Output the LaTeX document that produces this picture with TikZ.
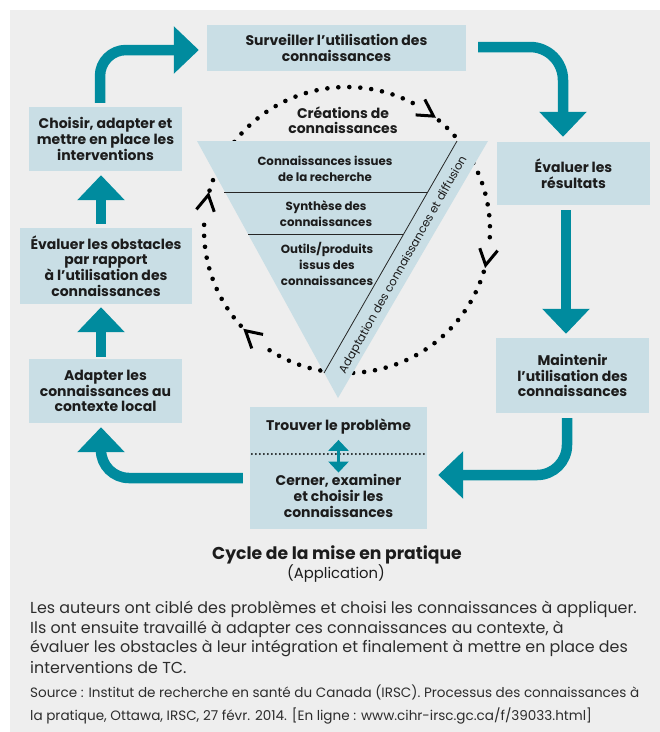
\documentclass[tikz,border=0pt]{standalone}
\usepackage{fontspec}
\setmainfont{Poppins}
\usetikzlibrary{arrows.meta,calc}

\definecolor{cyclegreen}{RGB}{0,139,158}
\definecolor{stepfill}{RGB}{201,222,229}
\definecolor{panelgray}{RGB}{238,238,238}
\definecolor{ink}{RGB}{28,28,28}
\definecolor{bodyink}{RGB}{45,45,45}

\newcommand\bxfont{\fontsize{14}{15.6}\selectfont\bfseries}
\newcommand\trifont{\fontsize{11.8}{15.7}\selectfont\bfseries}
\newcommand\bandfont{\fontsize{11.6}{13}\selectfont}

\begin{document}
\begin{tikzpicture}[x=1pt,y=-1pt,
  stepbox/.style={fill=stepfill, text=ink, font=\bxfont, align=center,
                  inner sep=0pt, minimum width=153pt},
  bigarrow/.style={draw=cyclegreen, line width=10.5pt,
                   -{Triangle[width=46pt,length=25pt]}},
  circdots/.style={draw=black, line width=4.6pt, line cap=round,
                   dash pattern=on 0pt off 11pt},
  chevron/.style={draw=black, line width=3pt, line join=miter},
  tritext/.style={text=ink, font=\trifont, align=center, inner sep=0pt},
  divider/.style={draw=black!85, line width=0.8pt}]

\useasboundingbox (0,0) rectangle (660,732);
\fill[white] (0,0) rectangle (660,732);
\fill[panelgray] (10,10) rectangle (660,732);

% --- the cycle of application steps ---
\node[stepbox, minimum width=259pt, minimum height=46pt] (surv) at (336.5,48)
  {Surveiller l’utilisation des\\connaissances};
\node[stepbox, minimum height=63pt] (evalres) at (573.5,173.5)
  {Évaluer les\\résultats};
\node[stepbox, minimum height=75pt] (maint) at (572.5,375.5)
  {Maintenir\\l’utilisation des\\connaissances};
\node[stepbox, minimum width=177pt, minimum height=122pt] (cible) at (338.5,468) {};
\node[stepbox, minimum height=64pt] (adapt) at (105.5,391)
  {Adapter les\\connaissances au\\contexte local};
\node[stepbox, minimum width=172pt, minimum height=76pt] (obst) at (106,266)
  {Évaluer les obstacles\\par rapport\\à l’utilisation des\\connaissances};
\node[stepbox, minimum height=64pt] (choix) at (105.5,139)
  {Choisir, adapter et\\mettre en place les\\interventions};

% contents of the problem box
\node[font=\bxfont, text=ink, inner sep=0pt] (trouver) at (338.5,427)
  {Trouver le problème};
\node[font=\bxfont, text=ink, align=center, inner sep=0pt] (cerner) at (338.5,496)
  {Cerner, examiner\\et choisir les\\connaissances};
\coordinate (sepL) at ($(cible.west)+(2,-14)$);
\coordinate (sepR) at ($(cible.east)+(0,-14)$);
\draw[line width=2pt, line cap=round, dash pattern=on 0pt off 4pt] (sepL) -- (sepR);
\draw[draw=cyclegreen, line width=3pt,
      {Triangle[width=20pt,length=11pt]}-{Triangle[width=20pt,length=11pt]}]
  ($(trouver.south)+(0,5)$) -- ($(cerner.north)+(0,-2)$);

% thick arrows between the steps
\draw[bigarrow, rounded corners=26pt]
  ($(choix.north)+(-5.5,-4)$) |- ($(surv.west)+(-8,2)$);
\draw[bigarrow, rounded corners=33pt]
  ($(surv.east)+(12,-1)$) -| ($(evalres.north)+(-10.5,-5)$);
\draw[bigarrow]
  ($(evalres.south)+(-7.5,5)$) -- ($(maint.north)+(-6.5,-4)$);
\draw[bigarrow, rounded corners=30pt]
  ($(maint.south)+(-5.5,5)$) |- ($(cible.east)+(11,7)$);
\draw[bigarrow, rounded corners=28pt]
  ($(cible.west)+(-7,10)$) -| ($(adapt.south)+(-4.5,4)$);
\draw[bigarrow]
  ($(adapt.north)+(-4.5,-2)$) -- ($(obst.south)+(-5,3)$);
\draw[bigarrow]
  ($(obst.north)+(-5,-4)$) -- ($(choix.south)+(-4.5,4)$);

% --- knowledge creation: dotted cycle with chevrons ---
\coordinate (hub) at (347,230);
\foreach \a/\b in {-164/-62, -50/5, 17/126, 138/186}
  \draw[circdots] ($(hub)+(\a:143)$) arc[start angle=\a, end angle=\b, radius=143];
\foreach \c in {-169,-56,11,132}
  \draw[chevron] ($(hub)+(\c-3.2:152)$) -- ($(hub)+(\c+3.2:143)$) -- ($(hub)+(\c-3.2:134)$);

% funnel
\coordinate (fTL) at (197,141);
\coordinate (fTR) at (488,141);
\coordinate (fTip) at (338,398);
\fill[stepfill] (fTL) -- (fTR) -- (fTip) -- cycle;
\coordinate (bandTop) at (457,141);
\coordinate (bandFoot) at (324,373);
\draw[divider] (bandTop) -- (bandFoot);
\draw[divider] (224,192) -- (428,192);
\draw[divider] (248,234) -- (403,234);

\node[tritext, font=\fontsize{14}{15}\selectfont\bfseries] (creation) at (343,120.5)
  {Créations de\\connaissances};
\node[tritext] (issues) at (325,169) {Connaissances issues\\de la recherche};
\node[tritext] (synth) at (326,213.5) {Synthèse des\\connaissances};
\node[tritext] (outils) at (327,264) {Outils/produits\\issus des\\connaissances};
\node[text=ink, font=\bandfont, inner sep=0pt, rotate=60.5] (band) at (403.5,265)
  {Adaptation des connaissances et diffusion};

% --- caption and notes ---
\node[font=\fontsize{17.2}{19}\selectfont\bfseries, text=ink, inner sep=0pt] (titre) at (337,555)
  {Cycle de la mise en pratique};
\node[font=\fontsize{14.8}{16}\selectfont, text=ink, inner sep=0pt] (sous) at (336,574)
  {(Application)};
\node[font=\fontsize{15.9}{19.4}\selectfont, text=bodyink, align=left, inner sep=0pt,
      anchor=north west] (para) at (30,601)
  {Les auteurs ont ciblé des problèmes et choisi les connaissances à appliquer.\\
   Ils ont ensuite travaillé à adapter ces connaissances au contexte, à\\
   évaluer les obstacles à leur intégration et finalement à mettre en place des\\[1.5pt]
   interventions de TC.};
\node[font=\fontsize{13.55}{23}\selectfont, text=bodyink, align=left, inner sep=0pt,
      anchor=north west] (source) at (30,684.5)
  {Source : Institut de recherche en santé du Canada (IRSC). Processus des connaissances à\\
   la pratique, Ottawa, IRSC, 27 févr. 2014. [En ligne : www.cihr-irsc.gc.ca/f/39033.html]};
\end{tikzpicture}
\end{document}
